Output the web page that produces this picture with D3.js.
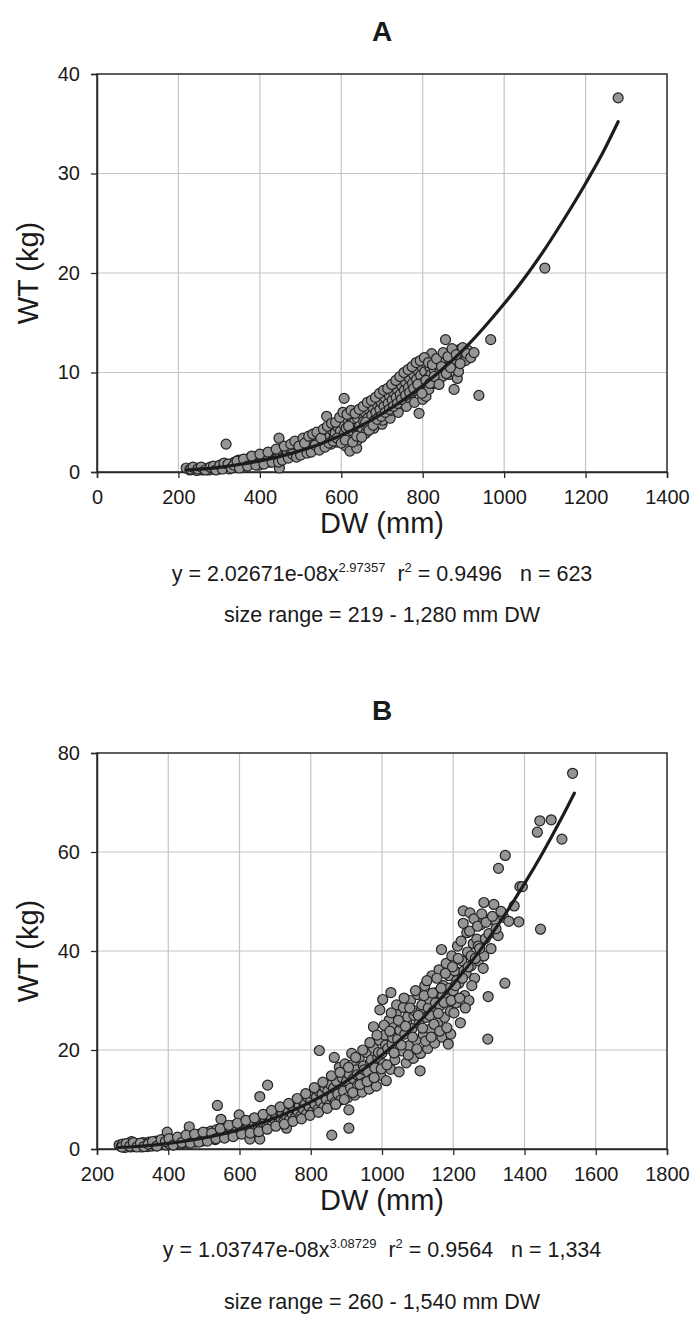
<!DOCTYPE html>
<html>
<head>
<meta charset="utf-8">
<script src="https://cdn.jsdelivr.net/npm/d3@7"></script>
<style>
  body { margin: 0; background: #fff; }
  svg { display: block; font-family: "Liberation Sans", Arial, sans-serif; }
</style>
</head>
<body>
<svg id="chart" width="691" height="1317"></svg>
<script>
// ---- panel A data (DW mm, WT kg) ----
const xTicksA = [0, 200, 400, 600, 800, 1000, 1200, 1400];
const yTicksA = [0, 10, 20, 30, 40];
const curveA = [[220,0.19],[250,0.28],[300,0.47],[350,0.75],[400,1.11],[450,1.57],[500,2.15],[550,2.85],
  [600,3.69],[650,4.68],[700,5.85],[750,7.17],[800,8.70],[850,10.4],[900,12.3],[950,14.5],[1000,16.9],
  [1050,19.5],[1100,22.4],[1150,25.6],[1200,29.0],[1240,31.9],[1280,35.2]];
const pointsA = [[219,0.4],[228,0.2],[240,0.3],[245,0.15],[252,0.4],[258,0.2],[262,0.3],[270,0.35],[275,0.2],
  [282,0.4],[288,0.3],[295,0.5],[300,0.3],[305,0.6],[310,0.4],[315,0.7],[317,2.8],[320,0.5],[325,0.3],[328,0.8],
  [332,0.6],[338,1.0],[340,0.5],[345,0.8],[348,1.2],[352,0.6],[355,0.9],[358,1.1],[362,0.7],[365,1.0],[368,1.3],
  [372,0.8],[375,1.1],[378,1.4],[382,0.9],[385,1.2],[388,1.5],[392,1.0],[395,1.3],[398,0.7],[402,1.6],[405,1.1],
  [408,1.4],[412,0.9],[415,1.7],[418,1.2],[422,1.5],[425,1.0],[428,1.9],[432,1.4],[435,1.7],[438,1.2],[442,2.0],
  [445,1.5],[447,3.4],[448,0.4],[450,1.8],[455,2.1],[458,1.4],[462,2.3],[465,1.7],[468,2.0],[472,2.5],[475,1.6],
  [478,2.2],[482,2.7],[485,1.9],[488,2.4],[492,2.9],[495,1.8],[498,2.2],[502,2.6],[505,3.0],[508,2.0],[512,2.4],
  [515,3.1],[518,2.7],[522,2.2],[525,3.3],[528,2.6],[532,3.0],[535,2.3],[538,3.5],[542,2.8],[545,3.2],[548,2.5],
  [552,3.7],[555,3.0],[558,2.6],[562,3.4],[564,5.6],[566,4.0],[568,3.1],[572,3.6],[575,2.8],[578,4.2],[582,3.4],
  [585,3.9],[588,3.0],[592,4.5],[595,3.6],[598,4.1],[600,5.2],[602,3.3],[605,4.8],[607,7.4],[608,3.9],[611,2.6],
  [612,4.4],[615,5.3],[618,3.6],[621,2.1],[622,4.8],[625,5.6],[628,4.1],[632,5.0],[635,4.4],[638,2.4],[640,5.4],
  [640,3.2],[642,3.8],[645,4.6],[648,5.9],[652,4.3],[655,5.1],[658,6.0],[660,3.9],[662,4.6],[665,5.4],[668,6.3],
  [672,4.9],[675,5.7],[678,6.5],[680,4.4],[682,5.2],[685,6.0],[688,6.8],[692,5.5],[695,6.3],[698,7.0],[700,4.8],
  [702,5.2],[705,6.6],[708,7.4],[712,5.9],[715,6.9],[718,7.7],[720,5.4],[722,6.2],[725,7.2],[728,8.0],[732,6.5],
  [735,7.5],[738,8.3],[740,6.0],[742,6.9],[745,7.8],[748,8.7],[752,7.2],[755,8.2],[758,9.0],[760,6.6],[762,7.5],
  [765,8.5],[768,9.4],[772,7.9],[775,8.9],[778,9.8],[780,7.0],[782,8.2],[785,9.3],[788,10.2],[791,5.9],[792,8.6],
  [795,9.7],[798,10.6],[800,7.3],[802,9.0],[805,10.1],[808,7.6],[810,10.9],[812,9.4],[815,8.3],[818,10.5],
  [820,9.8],[822,11.9],[825,8.9],[828,10.3],[832,9.5],[835,10.9],[838,9.2],[842,10.0],[845,11.0],[848,9.6],
  [852,10.4],[856,13.3],[856,11.9],[860,10.6],[865,9.8],[870,11.2],[876,10.1],[877,8.3],[880,10.9],[885,9.4],
  [888,10.1],[890,12.3],[895,11.7],[900,12.0],[905,11.2],[912,12.2],[938,7.7],[967,13.3],[1100,20.5],[1280,37.6],
  // more of the dense band
  [230,0.3],[236,0.5],[248,0.3],[256,0.5],[266,0.2],[278,0.5],[286,0.6],[292,0.2],[302,0.7],[308,0.3],[312,0.9],
  [322,0.8],[330,0.4],[336,0.7],[344,1.1],[350,0.4],[360,1.3],[370,0.6],[380,1.6],[390,0.7],[400,1.8],[410,0.8],
  [420,2.0],[430,1.0],[440,2.3],[446,1.0],[455,1.2],[460,2.6],[470,1.4],[476,2.8],[480,1.8],[486,3.1],[490,1.5],
  [496,2.6],[500,1.7],[506,3.4],[510,2.9],[516,1.9],[520,3.6],[526,2.0],[530,3.8],[536,2.7],[540,4.0],[546,2.2],
  [550,3.4],[556,4.3],[560,2.5],[566,4.6],[570,2.9],[576,4.9],[580,3.1],[586,5.0],[590,3.4],[596,5.5],[600,2.9],
  [604,6.0],[610,3.2],[614,5.8],[618,4.6],[624,6.2],[628,3.0],[634,5.9],[638,3.6],[644,6.3],[650,3.5],[654,6.6],
  [660,5.0],[664,7.0],[668,4.2],[674,7.2],[678,4.7],[684,7.5],[688,5.3],[694,7.9],[698,5.6],[704,8.2],[708,6.0],
  [714,8.4],[718,6.3],[724,8.8],[728,6.6],[734,9.2],[738,6.9],[744,9.6],[748,7.3],[754,10.0],[758,7.7],[764,10.3],
  [768,8.0],[774,10.6],[778,8.4],[784,11.0],[788,8.8],[794,11.2],[798,7.9],[804,11.5],[808,9.2],[814,11.0],
  [818,8.9],[824,10.8],[828,9.6],[834,11.4],[840,8.8],[846,10.6],[850,12.0],[858,9.9],[862,11.6],[868,10.5],
  [872,12.4],[882,11.8],[892,10.9],[898,12.5],[908,11.9],[918,11.5],[926,12.0]];

// ---- panel B data ----
const xTicksB = [200, 400, 600, 800, 1000, 1200, 1400, 1600, 1800];
const yTicksB = [0, 20, 40, 60, 80];
const curveB = [[260,0.30],[300,0.46],[350,0.74],[400,1.12],[450,1.61],[500,2.23],[550,3.00],[600,3.92],
  [650,5.01],[700,6.30],[750,7.80],[800,9.52],[850,11.5],[900,13.7],[950,16.2],[1000,19.0],[1050,22.05],
  [1100,25.4],[1150,29.2],[1200,33.3],[1250,37.75],[1300,42.6],[1350,47.9],[1400,53.6],[1450,59.7],
  [1500,66.3],[1540,71.9]];
const pointsB = [[262,0.8],[268,0.5],[272,1.0],[278,0.3],[284,0.7],[290,1.2],[294,0.4],[297,1.5],[300,0.8],
  [305,0.5],[310,1.1],[315,0.6],[320,0.9],[325,0.4],[330,1.3],[334,0.7],[338,1.0],[342,0.5],[346,1.4],[350,0.9],
  [354,0.6],[358,1.2],[362,0.8],[366,1.6],[370,0.7],[374,1.1],[378,1.4],[382,0.9],[386,1.8],[390,1.2],[394,0.8],
  [397,3.4],[400,1.5],[404,1.0],[408,1.9],[412,1.3],[416,0.9],[420,1.7],[424,1.2],[428,2.1],[432,1.5],[436,1.0],
  [440,1.9],[444,1.4],[448,2.4],[452,1.7],[456,1.2],[459,4.5],[460,2.2],[464,1.6],[468,2.7],[472,1.9],[476,1.4],
  [480,2.5],[484,2.0],[488,3.0],[492,2.2],[496,1.6],[500,2.8],[504,2.3],[508,3.3],[512,2.0],[516,2.7],[520,3.6],
  [524,2.4],[528,3.0],[532,1.9],[536,3.9],[538,8.8],[540,2.8],[544,3.4],[548,6.0],[548,2.5],[552,4.1],[556,3.1],
  [560,3.7],[564,2.7],[568,4.4],[572,3.3],[576,4.0],[580,2.9],[584,4.8],[588,3.6],[592,4.3],[596,3.1],[599,6.9],
  [600,5.0],[604,3.9],[608,4.6],[612,3.3],[616,5.3],[620,4.2],[624,5.0],[628,3.5],[629,2.0],[632,5.7],[636,4.5],
  [640,5.4],[644,3.8],[648,6.1],[652,4.8],[656,5.7],[657,10.6],[657,2.0],[660,4.1],[664,6.5],[668,5.2],[672,6.1],
  [676,4.4],[679,12.9],[680,7.0],[684,5.5],[688,6.5],[692,4.8],[696,7.4],[700,5.9],[704,6.9],[708,5.1],[712,7.8],
  [716,6.3],[720,7.3],[724,5.5],[728,8.3],[732,4.2],[732,6.7],[736,7.8],[740,5.9],[744,8.8],[748,7.1],[752,8.3],
  [756,6.3],[760,9.3],[764,7.6],[768,8.8],[772,6.7],[776,9.8],[780,8.0],[784,9.3],[788,7.1],[792,10.4],[796,8.5],
  [800,9.9],[804,7.5],[808,11.0],[812,9.0],[816,10.5],[820,8.0],[824,19.9],[824,11.6],[828,9.5],[832,11.1],
  [836,8.4],[840,12.3],[844,10.0],[848,11.7],[852,8.9],[856,13.0],[859,2.8],[860,10.5],[864,12.3],[866,18.5],
  [868,9.4],[872,13.7],[876,11.1],[880,16.5],[884,9.9],[888,14.4],[892,11.7],[896,17.2],[900,13.6],[904,10.4],
  [907,7.9],[907,4.2],[908,15.1],[910,13.0],[912,12.3],[915,19.3],[916,17.0],[920,14.2],[924,10.9],[928,16.0],
  [930,15.0],[932,12.9],[936,18.4],[940,14.9],[944,11.5],[948,16.8],[950,16.0],[952,13.5],[956,19.5],[960,15.6],
  [964,12.1],[968,17.6],[970,18.0],[972,14.2],[976,24.7],[976,20.4],[980,16.4],[984,12.7],[988,18.5],[990,19.5],
  [992,22.0],[994,28.1],[996,14.9],[1000,19.4],[1002,30.2],[1004,17.2],[1008,23.0],[1010,21.0],[1012,13.8],
  [1016,20.3],[1020,26.0],[1024,16.1],[1025,31.6],[1028,21.2],[1030,22.5],[1032,24.5],[1036,18.0],[1040,27.4],
  [1041,29.1],[1044,22.2],[1048,15.6],[1050,24.0],[1052,25.6],[1056,19.8],[1060,28.6],[1064,23.2],[1068,17.4],
  [1070,25.5],[1072,26.7],[1076,20.9],[1080,30.0],[1084,24.3],[1088,18.3],[1090,27.0],[1092,27.9],[1096,22.0],
  [1100,31.2],[1104,25.4],[1107,15.8],[1108,19.3],[1110,28.0],[1112,29.1],[1116,23.1],[1120,33.0],[1124,26.6],
  [1128,20.3],[1130,28.5],[1132,30.3],[1136,24.2],[1140,35.0],[1144,27.8],[1148,21.4],[1150,29.5],[1152,31.6],
  [1156,25.4],[1160,36.2],[1164,29.0],[1167,40.3],[1168,22.6],[1170,31.0],[1172,33.0],[1176,26.6],[1180,37.5],
  [1184,30.3],[1186,21.2],[1188,35.0],[1190,32.5],[1192,27.8],[1193,23.2],[1196,39.0],[1200,32.0],[1204,36.0],
  [1208,29.5],[1210,34.0],[1212,41.0],[1216,33.5],[1220,25.5],[1224,38.0],[1228,48.1],[1228,45.6],[1230,36.0],
  [1232,31.0],[1236,35.5],[1238,43.7],[1240,39.8],[1244,30.0],[1247,47.7],[1250,37.0],[1250,39.0],[1256,41.5],
  [1260,34.5],[1266,42.4],[1270,38.0],[1270,41.0],[1277,45.3],[1286,49.8],[1286,39.0],[1290,42.5],[1297,22.2],
  [1298,30.8],[1300,43.5],[1314,49.4],[1314,46.3],[1317,46.3],[1326,43.1],[1327,56.7],[1342,46.8],[1345,33.5],
  [1346,59.3],[1371,49.1],[1384,45.9],[1387,53.0],[1394,53.0],[1436,64.0],[1443,66.3],[1445,44.4],[1475,66.5],
  [1505,62.6],[1535,75.9],
  // more of the dense band
  [270,0.4],[282,1.1],[292,0.6],[302,1.3],[312,0.4],[322,1.2],[332,0.5],[344,1.0],[356,1.5],[368,0.6],[380,1.9],
  [392,1.5],[402,2.1],[414,0.8],[426,2.4],[438,1.3],[450,2.8],[462,1.2],[474,3.0],[486,1.4],[498,3.4],[510,1.6],
  [522,3.2],[534,2.1],[546,4.1],[558,2.2],[570,4.8],[582,2.5],[594,5.2],[606,3.0],[618,5.8],[630,3.2],[642,6.3],
  [654,3.5],[666,7.0],[678,4.0],[690,7.8],[702,4.6],[714,8.5],[726,5.0],[738,9.2],[750,5.6],[762,10.2],[774,6.1],
  [786,11.2],[798,6.8],[810,12.4],[822,7.4],[834,13.5],[846,8.2],[858,14.8],[870,9.0],[882,15.5],[894,10.0],
  [906,16.5],[918,11.4],[926,18.5],[938,13.0],[946,20.0],[958,13.6],[966,21.5],[978,14.4],[986,23.0],[998,16.2],
  [1006,25.0],[1014,17.0],[1022,23.8],[1026,27.5],[1034,19.4],[1046,26.0],[1054,21.0],[1062,30.5],[1066,24.8],
  [1074,19.0],[1078,28.5],[1086,22.6],[1094,32.0],[1098,20.2],[1102,27.0],[1114,24.4],[1118,31.0],[1122,21.8],
  [1126,34.0],[1134,27.0],[1138,22.6],[1142,31.5],[1146,25.2],[1154,34.5],[1158,27.4],[1162,23.8],[1166,32.5],
  [1174,29.6],[1178,35.5],[1182,24.5],[1194,30.0],[1198,36.8],[1202,27.5],[1206,33.0],[1214,38.5],[1218,30.5],
  [1222,42.0],[1226,34.5],[1234,28.5],[1242,36.8],[1246,44.0],[1252,33.0],[1258,46.5],[1262,38.5],[1268,45.0],
  [1274,40.5],[1280,47.5],[1284,36.5],[1292,45.8],[1306,40.5],[1310,47.0],[1320,44.5],[1334,48.0],[1356,46.0]];

const svg = d3.select("#chart");

const panels = [
  { title: "A", top: 74, bottom: 472, xDomain: [0, 1400], yDomain: [0, 40],
    xTicks: xTicksA, yTicks: yTicksA, points: pointsA, curve: curveA, eqY: 581, rangeY: 622,
    coef: "2.02671e-08", expo: "2.97357", r2: "0.9496", n: "623", range: "219 - 1,280" },
  { title: "B", top: 753, bottom: 1149, xDomain: [200, 1800], yDomain: [0, 80],
    xTicks: xTicksB, yTicks: yTicksB, points: pointsB, curve: curveB, eqY: 1257, rangeY: 1309,
    coef: "1.03747e-08", expo: "3.08729", r2: "0.9564", n: "1,334", range: "260 - 1,540" }
];

const left = 97, right = 667, cx = (left + right) / 2;

panels.forEach(function(p) {
  const x = d3.scaleLinear().domain(p.xDomain).range([left, right]);
  const y = d3.scaleLinear().domain(p.yDomain).range([p.bottom, p.top]);
  const g = svg.append("g");

  // gridlines
  g.append("g").selectAll("line.vx")
    .data(p.xTicks.slice(1, -1))
    .enter().append("line")
    .attr("x1", d => x(d)).attr("x2", d => x(d))
    .attr("y1", p.top).attr("y2", p.bottom)
    .attr("stroke", "#c4c4c4").attr("stroke-width", 1.2);
  g.append("g").selectAll("line.hy")
    .data(p.yTicks.slice(1, -1))
    .enter().append("line")
    .attr("x1", left).attr("x2", right)
    .attr("y1", d => y(d)).attr("y2", d => y(d))
    .attr("stroke", "#c4c4c4").attr("stroke-width", 1.2);

  // plot frame
  g.append("rect")
    .attr("x", left).attr("y", p.top)
    .attr("width", right - left).attr("height", p.bottom - p.top)
    .attr("fill", "none").attr("stroke", "#2a2a2a").attr("stroke-width", 1.5);

  // axes
  const xAxis = g.append("g")
    .attr("transform", "translate(0," + p.bottom + ")")
    .call(d3.axisBottom(x).tickValues(p.xTicks).tickFormat(d3.format("d"))
      .tickSizeOuter(0).tickSize(6).tickPadding(12));
  const yAxis = g.append("g")
    .attr("transform", "translate(" + left + ",0)")
    .call(d3.axisLeft(y).tickValues(p.yTicks).tickFormat(d3.format("d"))
      .tickSizeOuter(0).tickSize(6).tickPadding(11));
  [xAxis, yAxis].forEach(function(a) {
    a.select(".domain").attr("stroke", "#2a2a2a").attr("stroke-width", 1.5);
    a.selectAll(".tick line").attr("stroke", "#2a2a2a").attr("stroke-width", 1.3);
    a.selectAll(".tick text")
      .attr("fill", "#1a1a1a")
      .style("font-size", "20px")
      .style("font-family", "'Liberation Sans', Arial, sans-serif");
  });

  // points
  g.append("g").selectAll("circle")
    .data(p.points)
    .enter().append("circle")
    .attr("cx", d => x(d[0]))
    .attr("cy", d => y(d[1]))
    .attr("r", 5)
    .attr("fill", "#959595")
    .attr("stroke", "#222")
    .attr("stroke-width", 1.2);

  // fitted power curve
  const line = d3.line()
    .x(d => x(d[0]))
    .y(d => y(d[1]))
    .curve(d3.curveMonotoneX);
  g.append("path")
    .datum(p.curve)
    .attr("d", line)
    .attr("fill", "none")
    .attr("stroke", "#1c1c1c")
    .attr("stroke-width", 3.2)
    .attr("stroke-linecap", "round");

  // titles and labels
  g.append("text")
    .attr("x", cx).attr("y", p.top - 33)
    .attr("text-anchor", "middle")
    .style("font-size", "28px").style("font-weight", "bold")
    .attr("fill", "#1a1a1a")
    .text(p.title);

  g.append("text")
    .attr("transform", "translate(38," + (p.top + p.bottom) / 2 + ") rotate(-90)")
    .attr("text-anchor", "middle")
    .style("font-size", "29px")
    .attr("fill", "#1a1a1a")
    .text("WT (kg)");

  g.append("text")
    .attr("x", cx).attr("y", p.bottom + 61)
    .attr("text-anchor", "middle")
    .style("font-size", "29px")
    .attr("fill", "#1a1a1a")
    .text("DW (mm)");

  const eq = g.append("text")
    .attr("x", cx).attr("y", p.eqY)
    .attr("text-anchor", "middle")
    .style("font-size", "21.5px")
    .attr("fill", "#1a1a1a");
  eq.append("tspan").text("y = " + p.coef + "x");
  eq.append("tspan").attr("dy", -9).style("font-size", "13px").text(p.expo);
  eq.append("tspan").attr("dy", 9).attr("xml:space", "preserve").text("  r");
  eq.append("tspan").attr("dy", -9).style("font-size", "13px").text("2");
  eq.append("tspan").attr("dy", 9).attr("xml:space", "preserve").text(" = " + p.r2 + "   n = " + p.n);

  g.append("text")
    .attr("x", cx).attr("y", p.rangeY)
    .attr("text-anchor", "middle")
    .style("font-size", "21.5px")
    .attr("fill", "#1a1a1a")
    .text("size range = " + p.range + " mm DW");
});
</script>
</body>
</html>
